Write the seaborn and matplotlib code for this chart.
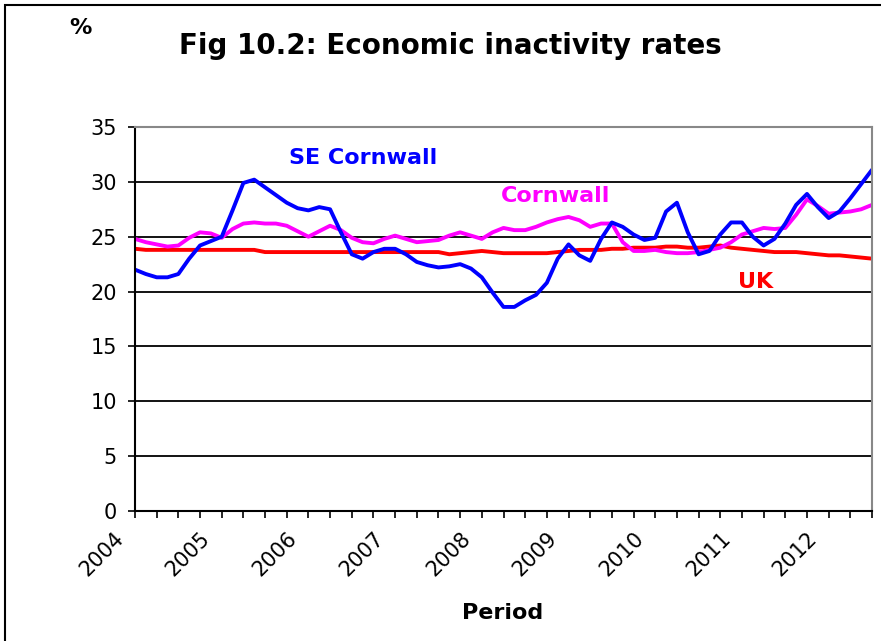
import numpy as np
import pandas as pd
import seaborn as sns
import matplotlib.pyplot as plt
from matplotlib.patches import Rectangle

# 数据：按半季度读取的经济不活跃率 (%)
se_cornwall = [22.0, 21.6, 21.3, 21.3, 21.6, 23.0, 24.2, 24.6, 25.0, 27.4,
               29.9, 30.2, 29.5, 28.8, 28.1, 27.6, 27.4, 27.7, 27.5, 25.4,
               23.4, 23.0, 23.6, 23.9, 23.9, 23.4, 22.7, 22.4, 22.2, 22.3,
               22.5, 22.1, 21.3, 19.9, 18.6, 18.6, 19.2, 19.7, 20.8, 23.0,
               24.3, 23.3, 22.8, 24.8, 26.3, 25.9, 25.2, 24.7, 24.9, 27.3,
               28.1, 25.4, 23.4, 23.7, 25.2, 26.3, 26.3, 25.0, 24.2, 24.8,
               26.2, 27.9, 28.9, 27.7, 26.7, 27.3, 28.5, 29.8, 31.1]
cornwall = [24.8, 24.5, 24.3, 24.1, 24.2, 24.9, 25.4, 25.3, 24.9, 25.7,
            26.2, 26.3, 26.2, 26.2, 26.0, 25.5, 25.0, 25.5, 26.0, 25.6,
            24.9, 24.5, 24.4, 24.8, 25.1, 24.8, 24.5, 24.6, 24.7, 25.1,
            25.4, 25.1, 24.8, 25.4, 25.8, 25.6, 25.6, 25.9, 26.3, 26.6,
            26.8, 26.5, 25.9, 26.2, 26.2, 24.5, 23.7, 23.7, 23.8, 23.6,
            23.5, 23.5, 23.6, 23.8, 24.0, 24.5, 25.2, 25.5, 25.8, 25.7,
            25.8, 27.0, 28.4, 27.8, 27.1, 27.2, 27.3, 27.5, 27.9]
uk = [23.9, 23.8, 23.8, 23.8, 23.8, 23.8, 23.8, 23.8, 23.8, 23.8,
      23.8, 23.8, 23.6, 23.6, 23.6, 23.6, 23.6, 23.6, 23.6, 23.6,
      23.6, 23.6, 23.6, 23.6, 23.6, 23.6, 23.6, 23.6, 23.6, 23.4,
      23.5, 23.6, 23.7, 23.6, 23.5, 23.5, 23.5, 23.5, 23.5, 23.6,
      23.7, 23.8, 23.8, 23.8, 23.9, 23.9, 24.0, 24.0, 24.0, 24.1,
      24.1, 24.0, 24.0, 24.1, 24.2, 24.0, 23.9, 23.8, 23.7, 23.6,
      23.6, 23.6, 23.5, 23.4, 23.3, 23.3, 23.2, 23.1, 23.0]
year_labels = ['2004', '2005', '2006', '2007', '2008', '2009', '2010', '2011', '2012']
y_ticks = [0, 5, 10, 15, 20, 25, 30, 35]

# 横轴位置：季度序号（每个点半个季度）
period = np.arange(len(uk)) / 2
df = pd.DataFrame({'period': period, 'SE Cornwall': se_cornwall,
                   'Cornwall': cornwall, 'UK': uk})

sns.set_style("white")
plt.rcParams['font.family'] = ['DejaVu Sans']
plt.rcParams['text.color'] = 'black'
plt.rcParams['xtick.color'] = 'black'
plt.rcParams['ytick.color'] = 'black'

fig = plt.figure(figsize=(8.81, 6.41), dpi=100)
ax = fig.add_axes([135 / 881, 130 / 641, 737 / 881, 384 / 641])

colors = {'UK': '#ff0000', 'Cornwall': '#ff00ff', 'SE Cornwall': '#0000ff'}
for name in ['UK', 'Cornwall', 'SE Cornwall']:
    sns.lineplot(data=df, x='period', y=name, color=colors[name], linewidth=2.8, ax=ax)

ax.set_xlim(0, 34)
ax.set_ylim(0, 35)
ax.set_yticks(y_ticks)
ax.set_yticklabels([str(v) for v in y_ticks], fontsize=15)
ax.set_xticks(np.arange(0, 35))
ax.set_xticklabels([])
ax.tick_params(axis='both', direction='out', length=5, width=1.2, color='black', left=True, bottom=True)
ax.tick_params(axis='y', pad=8)
for v in y_ticks[1:-1]:
    ax.axhline(v, color='black', linewidth=1.3, zorder=0)

for s in ['left', 'bottom']:
    ax.spines[s].set_color('black')
    ax.spines[s].set_linewidth(1.5)
for s in ['top', 'right']:
    ax.spines[s].set_color('#888888')
    ax.spines[s].set_linewidth(1.5)

# 年份标签（2004 落在绘图区左侧之外）
for i, lab in enumerate(year_labels):
    ax.text(4 * i - 1, -0.045, lab, transform=ax.get_xaxis_transform(),
            rotation=45, ha='right', va='top', rotation_mode='anchor',
            fontsize=15, clip_on=False)

ax.set_xlabel('')
ax.set_ylabel('')
fig.text(503 / 881, 1 - 613 / 641, 'Period', ha='center', va='center',
         fontsize=16, fontweight='bold')
fig.text(450 / 881, 1 - 46 / 641, 'Fig 10.2: Economic inactivity rates',
         ha='center', va='center', fontsize=20, fontweight='bold')
fig.text(80 / 881, 1 - 28 / 641, '%', ha='center', va='center',
         fontsize=16, fontweight='bold')

# 系列名称标注
ax.text(363 / 881, 1 - 158 / 641, 'SE Cornwall', transform=fig.transFigure,
        color='#0000ff', fontsize=16, fontweight='bold', ha='center', va='center')
ax.text(556 / 881, 1 - 196 / 641, 'Cornwall', transform=fig.transFigure,
        color='#ff00ff', fontsize=16, fontweight='bold', ha='center', va='center')
ax.text(756 / 881, 1 - 282 / 641, 'UK', transform=fig.transFigure,
        color='#ff0000', fontsize=16, fontweight='bold', ha='center', va='center')

# 图框
fig.patches.append(Rectangle((5 / 881, -0.1), 1.2, 1.1 - 5 / 641, transform=fig.transFigure,
                             fill=False, edgecolor='black', linewidth=1.5))

fig.savefig('out.png', dpi=100)
